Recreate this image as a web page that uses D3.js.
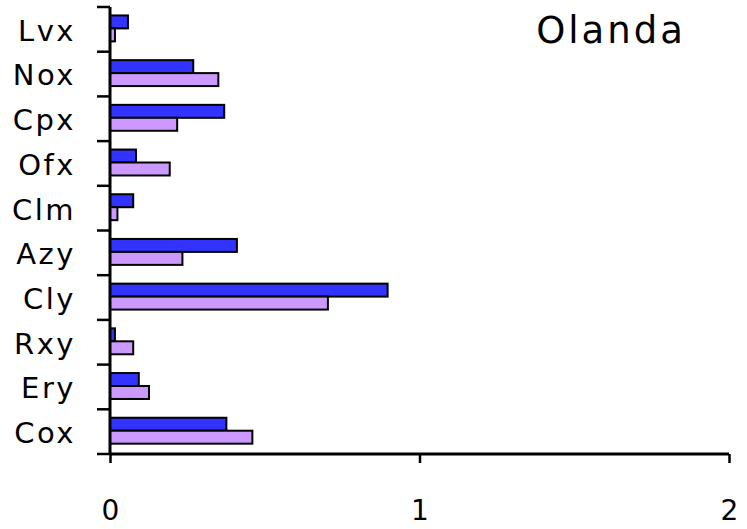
<!DOCTYPE html>
<html>
<head>
<meta charset="utf-8">
<script src="https://cdn.jsdelivr.net/npm/d3@7/dist/d3.min.js"></script>
<style>
  html, body { margin: 0; padding: 0; background: #fff; }
  svg { display: block; }
  text { font-family: "DejaVu Sans", Verdana, sans-serif; fill: #000; }
</style>
</head>
<body>
<svg id="chart" width="747" height="529"></svg>
<script>
// Categories, top to bottom
const categories = ["Lvx", "Nox", "Cpx", "Ofx", "Clm", "Azy", "Cly", "Rxy", "Ery", "Cox"];
// Two series per category
const seriesNames = ["A", "B"];
const seriesA = [0.058, 0.269, 0.369, 0.084, 0.075, 0.410, 0.897, 0.016, 0.093, 0.376];
const seriesB = [0.016, 0.350, 0.217, 0.193, 0.024, 0.234, 0.704, 0.075, 0.126, 0.460];
const seriesColors = ["#3333FF", "#CC99FF"];
const xTicks = [0, 1, 2];
const title = "Olanda";

const svg = d3.select("#chart");

const x = d3.scaleLinear().domain([0, 2]).range([110, 729]);
const y = d3.scaleBand().domain(categories).range([7, 454])
  .paddingInner(0.42).paddingOuter(0.21).align(0.45);
const ySub = d3.scaleBand().domain(seriesNames).range([0, y.bandwidth()]);

const values = [seriesA, seriesB];

// Bars
const groups = svg.append("g").selectAll("g")
  .data(categories)
  .join("g")
  .attr("transform", d => `translate(0,${y(d)})`);

groups.selectAll("rect")
  .data((d, i) => seriesNames.map((s, j) => ({ s, v: values[j][i], c: seriesColors[j] })))
  .join("rect")
  .attr("x", x(0))
  .attr("y", d => ySub(d.s))
  .attr("width", d => x(d.v) - x(0))
  .attr("height", ySub.bandwidth())
  .attr("fill", d => d.c)
  .attr("stroke", "#000")
  .attr("stroke-width", 2);

// Category axis: ticks at band boundaries
const step = 447 / categories.length;
const bounds = d3.range(categories.length + 1).map(i => 7 + i * step);
const yAxis = svg.append("g");
yAxis.append("line")
  .attr("x1", x(0)).attr("x2", x(0))
  .attr("y1", 7).attr("y2", 454)
  .attr("stroke", "#000").attr("stroke-width", 3);
yAxis.selectAll("line.tick")
  .data(bounds)
  .join("line")
  .attr("class", "tick")
  .attr("x1", 97).attr("x2", x(0))
  .attr("y1", d => d).attr("y2", d => d)
  .attr("stroke", "#000").attr("stroke-width", 2.5);
yAxis.selectAll("text")
  .data(categories)
  .join("text")
  .attr("x", 76)
  .attr("y", (d, i) => 7 + (i + 0.5) * step + 1)
  .attr("dy", "0.36em")
  .attr("text-anchor", "end")
  .attr("font-size", 29)
  .attr("letter-spacing", 2.5)
  .text(d => d);

// Value axis
const xAxis = d3.axisBottom(x).tickValues(xTicks).tickSize(9).tickFormat(d3.format("d"));
const gx = svg.append("g").attr("transform", "translate(0,454)").call(xAxis);
gx.select(".domain").attr("stroke", "#000").attr("stroke-width", 3)
  .attr("d", `M${x(0)},0H${x(2)}`);
gx.selectAll(".tick line").attr("stroke", "#000").attr("stroke-width", 2.5);
gx.selectAll(".tick text")
  .attr("y", 56)
  .attr("dy", "0.36em")
  .attr("font-size", 28)
  .style("font-family", "'DejaVu Sans', Verdana, sans-serif");

// Title
svg.append("text")
  .attr("x", 611).attr("y", 43)
  .attr("text-anchor", "middle")
  .attr("font-size", 37)
  .attr("letter-spacing", 3)
  .text(title);
</script>
</body>
</html>
